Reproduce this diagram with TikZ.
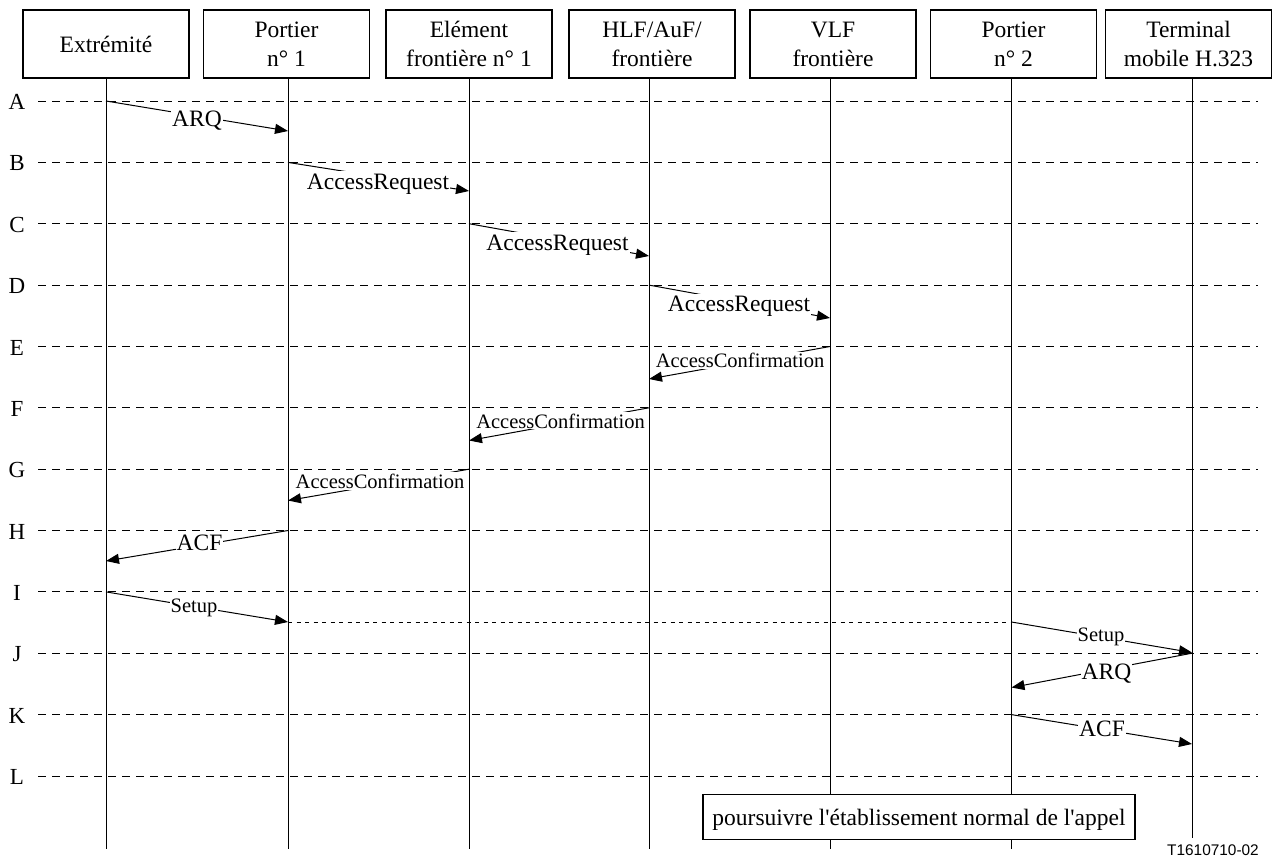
\documentclass[tikz,border=0pt]{standalone}
\usepackage{fontspec}
\newfontfamily\timesfont{Liberation Serif}
\newfontfamily\arialfont{Liberation Sans}
\usetikzlibrary{arrows.meta}

\begin{document}
\begin{tikzpicture}[x=1pt,y=-1pt,
  hdr/.style={draw, line width=1.1pt, minimum width=166pt, minimum height=68pt,
    inner sep=0pt, align=center, font=\timesfont\fontsize{23.5}{29}\selectfont},
  life/.style={line width=1pt},
  rowline/.style={line width=0.9pt, dash pattern=on 7.5pt off 6.5pt},
  relay/.style={line width=0.9pt, dash pattern=on 4pt off 4.5pt},
  rowlbl/.style={anchor=base, inner sep=0pt, font=\timesfont\fontsize{23}{28}\selectfont},
  msg/.style={line width=1pt, -{Triangle[length=13pt,width=10pt]}},
  lblbig/.style={anchor=base, fill=white, inner sep=1pt, text height=17pt,
    font=\timesfont\fontsize{23.5}{28}\selectfont},
  lblsmall/.style={anchor=base, fill=white, inner sep=1pt, text height=15pt,
    font=\timesfont\fontsize{20.5}{24}\selectfont},
  notebox/.style={draw, line width=1.1pt, fill=white, minimum width=432pt,
    minimum height=45pt, inner sep=0pt, text height=20pt, text depth=3pt,
    font=\timesfont\fontsize{23.5}{28}\selectfont},
  figid/.style={anchor=base east, inner sep=0pt, font=\arialfont\fontsize{15.4}{18}\selectfont}
]
\useasboundingbox (0,0) rectangle (1273,857);

% step rows with their letters
\foreach \r/\y in {A/101,B/162.4,C/223.7,D/285.1,E/346.5,F/407.8,
                   G/469.2,H/530.5,I/591.9,J/653.2,K/714.6,L/776} {
  \node[rowlbl] (row\r) at (17,{\y+8.5}) {\r};
  \coordinate (rs\r) at (38,\y);
  \coordinate (re\r) at (1258,\y);
  \draw[rowline] (rs\r) -- (re\r);
}

% lifelines
\foreach \i/\x/\b in {1/106/849,2/288/849,3/469/849,4/649/849,
                      5/830/849,6/1011.5/849,7/1192/838} {
  \coordinate (lt\i) at (\x,78);
  \coordinate (lb\i) at (\x,\b);
  \draw[life] (lt\i) -- (lb\i);
}

% participants
\node[hdr] (h1) at (106,44)    {Extrémité};
\node[hdr] (h2) at (286.5,44)  {Portier\\n° 1};
\node[hdr] (h3) at (469,44)    {Elément\\frontière n° 1};
\node[hdr] (h4) at (652,44)    {HLF/AuF/\\frontière};
\node[hdr] (h5) at (833,44)    {VLF\\frontière};
\node[hdr] (h6) at (1013.5,44) {Portier\\n° 2};
\node[hdr] (h7) at (1188.5,44) {Terminal\\mobile H.323};

% message end points
\coordinate (aS) at (106,101);    \coordinate (aE) at (288,131);
\coordinate (bS) at (288,162.4);  \coordinate (bE) at (469,191);
\coordinate (cS) at (469,223.7);  \coordinate (cE) at (649,256);
\coordinate (dS) at (649,285.1);  \coordinate (dE) at (830,318);
\coordinate (eS) at (830,346.5);  \coordinate (eE) at (649,379);
\coordinate (fS) at (649,407.8);  \coordinate (fE) at (469,440.5);
\coordinate (gS) at (469,469.2);  \coordinate (gE) at (288,500.5);
\coordinate (hS) at (288,530.5);  \coordinate (hE) at (106,561);
\coordinate (iS) at (106,591.9);  \coordinate (iE) at (288,622);
\coordinate (jS) at (1011.5,622); \coordinate (jE) at (1192,652.5);
\coordinate (kS) at (1192,653.2); \coordinate (kE) at (1011.5,687.5);
\coordinate (mS) at (1011.5,714.6); \coordinate (mE) at (1192,744);

% messages
\draw[msg] (aS) -- (aE);
\draw[msg] (bS) -- (bE);
\draw[msg] (cS) -- (cE);
\draw[msg] (dS) -- (dE);
\draw[msg] (eS) -- (eE);
\draw[msg] (fS) -- (fE);
\draw[msg] (gS) -- (gE);
\draw[msg] (hS) -- (hE);
\draw[msg] (iS) -- (iE);
\draw[relay] (iE) -- (jS);
\draw[msg] (jS) -- (jE);
\draw[msg] (kS) -- (kE);
\draw[msg] (mS) -- (mE);

% message labels
\node[lblbig]   (la) at (197,126)      {ARQ};
\node[lblbig]   (lb) at (378,189)      {AccessRequest};
\node[lblbig]   (lc) at (557.5,250)    {AccessRequest};
\node[lblbig]   (ld) at (739,311.5)    {AccessRequest};
\node[lblsmall] (le) at (740,367.7)    {AccessConfirmation};
\node[lblsmall] (lf) at (560.5,428)    {AccessConfirmation};
\node[lblsmall] (lg) at (380,488.3)    {AccessConfirmation};
\node[lblbig]   (lh) at (199.5,550.7)  {ACF};
\node[lblsmall] (li) at (194,612)      {Setup};
\node[lblsmall] (lj) at (1101,641)     {Setup};
\node[lblbig]   (lk) at (1106.5,679)   {ARQ};
\node[lblbig]   (lm) at (1102,736.7)   {ACF};

% closing note and figure reference
\node[notebox] (cont) at (919,816.7) {poursuivre l'établissement normal de l'appel};
\node[figid] (fid) at (1259,855) {T1610710-02};
\end{tikzpicture}
\end{document}
